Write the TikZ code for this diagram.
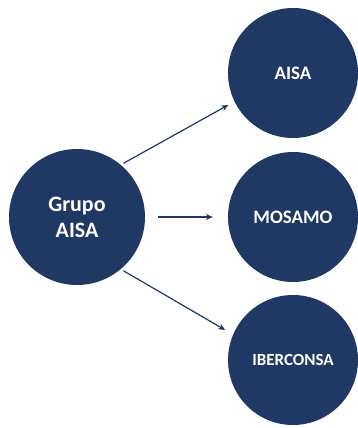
\documentclass[tikz,border=0pt]{standalone}
\usepackage{fontspec}
\setmainfont{Carlito}
\definecolor{navy}{HTML}{1F3864}
\tikzset{
  bubble/.style={circle, fill=navy, draw=none, text=white, font=\bfseries, align=center, inner sep=0pt},
  arr/.style={draw=navy, line width=1.2pt, -{Stealth[length=7pt,width=6pt]}},
}
\usetikzlibrary{arrows.meta}
\begin{document}
\begin{tikzpicture}[x=1pt,y=-1pt]
\useasboundingbox (0,0) rectangle (358,428);
\clip (0,0) rectangle (358,428);
\node[bubble, minimum size=136pt, font=\bfseries\fontsize{22}{26}\selectfont] (g) at (77,217) {Grupo\\AISA};
\node[bubble, minimum size=130pt, font=\bfseries\fontsize{19}{22}\selectfont] (a) at (293,73) {AISA};
\node[bubble, minimum size=130pt, font=\bfseries\fontsize{19}{22}\selectfont] (m) at (293,217) {MOSAMO};
\node[bubble, minimum size=130pt, font=\bfseries\fontsize{17}{20}\selectfont] (i) at (293,360) {IBERCONSA};
\draw[arr, shorten <=3pt, shorten >=7pt] (g.50) -- (a.206);
\draw[arr, shorten <=13pt, shorten >=15pt] (g.0) -- (m.180);
\draw[arr, shorten <=3pt, shorten >=9pt] (g.-50) -- (i.157);
\end{tikzpicture}
\end{document}
